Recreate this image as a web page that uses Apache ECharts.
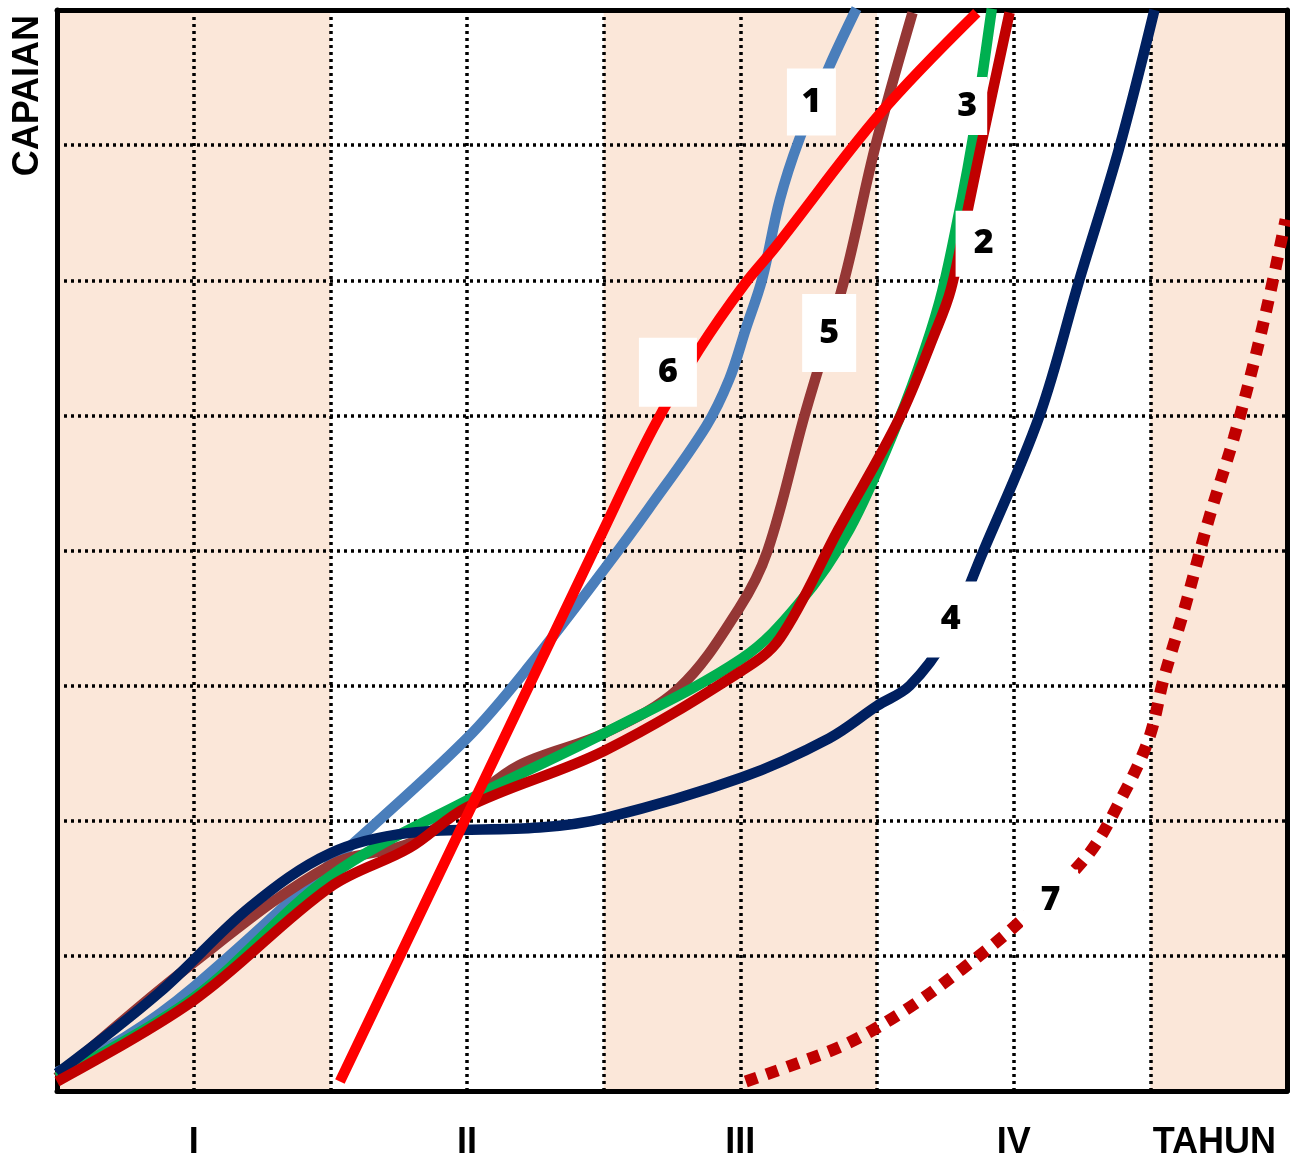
<!DOCTYPE html>
<html>
<head>
<meta charset="utf-8">
<script src="https://cdn.jsdelivr.net/npm/echarts@6/dist/echarts.min.js"></script>
<style>
html, body { margin: 0; padding: 0; background: #fff; }
#chart { width: 1290px; height: 1161px; }
</style>
</head>
<body>
<div id="chart"></div>
<script>
// x = tahun (0..9 grid steps), y = capaian (0..8 grid steps)
const xTickLabels = ['', 'I', '', 'II', '', 'III', '', 'IV', '', ''];

const s1x = [0, 0.5, 1.0, 2.0, 3.0, 3.5, 4.01, 4.33, 4.75, 4.92, 5.04, 5.16, 5.29, 5.43, 5.65, 5.85];
const s1y = [0.14, 0.40, 0.77, 1.68, 2.61, 3.20, 3.87, 4.31, 4.92, 5.27, 5.64, 6.01, 6.60, 7.04, 7.58, 8.01];

const s2x = [0, 1.0, 2.0, 2.58, 3.0, 4.01, 5.01, 5.29, 5.72, 6.16, 6.42, 6.54, 6.68, 6.76, 6.97];
const s2y = [0.07, 0.67, 1.51, 1.80, 2.10, 2.52, 3.11, 3.35, 4.16, 4.97, 5.60, 5.93, 6.60, 6.99, 7.98];

const s3x = [0, 1.0, 2.0, 3.0, 4.01, 5.01, 5.43, 5.80, 6.16, 6.35, 6.48, 6.62, 6.70, 6.77, 6.84];
const s3y = [0.10, 0.69, 1.59, 2.15, 2.65, 3.20, 3.61, 4.16, 4.97, 5.49, 5.93, 6.60, 7.04, 7.51, 8.01];

const s4x = [0, 0.75, 1.41, 2.0, 2.58, 3.53, 4.01, 5.01, 5.65, 6.0, 6.24, 6.50, 6.78, 7.19, 7.48, 7.77, 8.03];
const s4y = [0.13, 0.73, 1.36, 1.76, 1.91, 1.95, 2.02, 2.32, 2.61, 2.85, 3.00, 3.35, 4.00, 5.00, 6.00, 6.97, 8.00];

const s5x = [0, 1.0, 2.0, 2.60, 3.0, 3.38, 4.01, 4.55, 4.99, 5.20, 5.47, 5.76, 5.99, 6.26];
const s5y = [0.10, 0.95, 1.67, 1.84, 2.13, 2.41, 2.65, 2.98, 3.57, 4.00, 5.00, 6.00, 7.00, 7.98];

const s6x = [2.07, 3.03, 3.97, 4.36, 4.70, 5.03, 5.26, 6.02, 6.73];
const s6y = [0.07, 2.10, 4.09, 4.90, 5.49, 5.97, 6.25, 7.23, 7.98];

const s7x = [5.04, 5.43, 5.80, 6.21, 6.62, 7.02, 7.53, 7.79, 7.99, 8.10, 8.25, 8.43, 8.61, 8.76, 8.88, 8.99];
const s7y = [0.07, 0.21, 0.36, 0.60, 0.90, 1.23, 1.73, 2.17, 2.61, 3.06, 3.57, 4.24, 4.83, 5.40, 5.92, 6.45];

// number tags placed on the curves
const tagNames = ['1', '2', '3', '4', '5', '6', '7'];
const tagX = [5.52, 6.78, 6.66, 6.54, 5.65, 4.47, 7.27];
const tagY = [7.32, 6.27, 7.29, 3.49, 5.61, 5.32, 1.41];

const tagBox = [[49, 67], [56, 66], [40, 58], [60, 76], [54, 78], [58, 69], [55, 62]];

function pairs(xs, ys) {
    return xs.map((x, i) => [x, ys[i]]);
}

function curve(name, xs, ys, color, dashed) {
    return {
        name: name,
        type: 'line',
        data: pairs(xs, ys),
        smooth: 0.35,
        symbol: 'none',
        lineStyle: {
            color: color,
            width: dashed ? 12 : 10.5,
            type: dashed ? [12, 10] : 'solid'
        }
    };
}

function frameLine() {
    return { show: true, onZero: false, lineStyle: { color: '#000', width: 5 } };
}
function dottedLine() {
    return { show: true, lineStyle: { color: '#000', width: 3.5, type: [3, 4] } };
}

const chart = echarts.init(document.getElementById('chart'));

const option = {
    animation: false,
    backgroundColor: '#fff',
    grid: { left: 57, right: 2, top: 10, bottom: 67 },
    xAxis: [
        {
            type: 'value',
            z: 0,
            min: 0,
            max: 9,
            interval: 1,
            position: 'bottom',
            axisLine: frameLine(),
            axisTick: { show: false },
            axisLabel: {
                margin: 34,
                color: '#000',
                fontSize: 36,
                fontWeight: 'bold',
                fontFamily: 'Liberation Sans',
                formatter: v => xTickLabels[Math.round(v)] || ''
            },
            splitLine: dottedLine(),
            splitArea: {
                show: true,
                areaStyle: { color: ['#FBE7D9', '#FBE7D9', '#FFFFFF', '#FFFFFF'] }
            },
            name: 'TAHUN',
            nameLocation: 'end',
            nameGap: -11,
            nameTextStyle: {
                color: '#000',
                fontSize: 36,
                fontWeight: 'bold',
                fontFamily: 'Liberation Sans',
                align: 'right',
                verticalAlign: 'top',
                padding: [34, 0, 0, 0]
            }
        },
        {
            type: 'value',
            z: 1,
            min: 0,
            max: 9,
            position: 'top',
            axisLine: frameLine(),
            axisTick: { show: false },
            axisLabel: { show: false },
            splitLine: { show: false }
        }
    ],
    yAxis: [
        {
            type: 'value',
            z: 1,
            min: 0,
            max: 8,
            interval: 1,
            axisLine: frameLine(),
            axisTick: { show: false },
            axisLabel: { show: false },
            splitLine: dottedLine(),
            name: 'CAPAIAN',
            nameLocation: 'end',
            nameRotate: 90,
            nameGap: -5,
            nameTextStyle: {
                color: '#000',
                fontSize: 36,
                fontWeight: 'bold',
                fontFamily: 'Liberation Sans',
                align: 'right',
                verticalAlign: 'bottom',
                padding: [0, 0, 11, 0]
            }
        },
        {
            type: 'value',
            z: 1,
            min: 0,
            max: 8,
            position: 'right',
            axisLine: frameLine(),
            axisTick: { show: false },
            axisLabel: { show: false },
            splitLine: { show: false }
        }
    ],
    series: [
        curve('1', s1x, s1y, '#4A7EBB'),
        curve('5', s5x, s5y, '#953735'),
        curve('3', s3x, s3y, '#00B050'),
        curve('4', s4x, s4y, '#002060'),
        curve('2', s2x, s2y, '#C00000'),
        curve('6', s6x, s6y, '#FF0000'),
        curve('7', s7x, s7y, '#C00000', true),
        {
            name: 'tags',
            type: 'scatter',
            z: 5,
            symbol: 'rect',
            symbolSize: (val, p) => tagBox[p.dataIndex],
            itemStyle: { color: '#fff', opacity: 1 },
            data: tagNames.map((n, i) => ({ name: n, value: [tagX[i], tagY[i]] })),
            label: {
                show: true,
                position: 'inside',
                formatter: p => p.name,
                color: '#000',
                fontSize: 34,
                fontWeight: 800,
                fontFamily: 'Open Sans'
            }
        }
    ]
};

chart.setOption(option);
</script>
</body>
</html>
